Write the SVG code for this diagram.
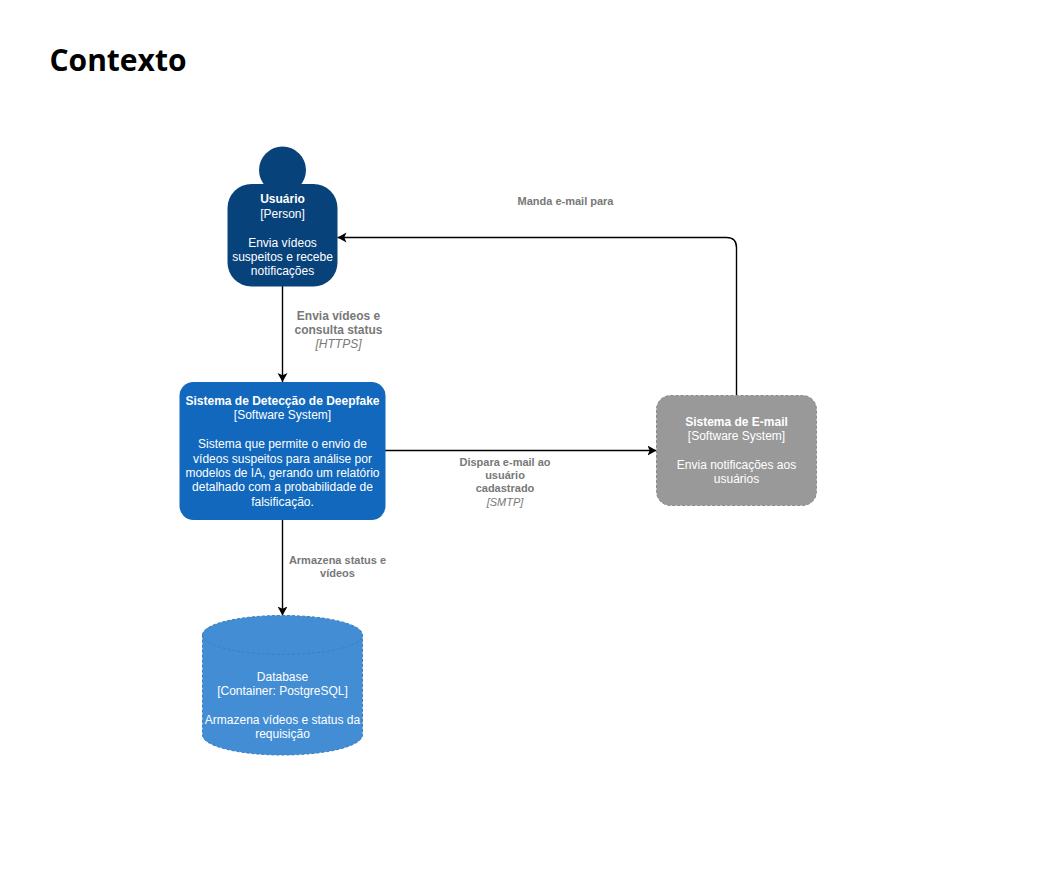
<svg xmlns="http://www.w3.org/2000/svg" width="1061" height="889" viewBox="0 0 1061 889">
<style>
text{font-family:"Liberation Sans",Arial,sans-serif;text-anchor:middle}
.n{font-size:12px;fill:#fff}
.b{font-weight:bold}
.l{font-size:11px;fill:#787878;font-weight:bold}
.i{font-size:11px;fill:#787878;font-style:italic}
.m{font-size:12px}
.c{fill:none;stroke:#000;stroke-width:1.4}
.d{stroke-width:1;stroke-dasharray:3 2}
</style>
<defs><marker id="a" markerUnits="userSpaceOnUse" markerWidth="11" markerHeight="11" refX="9" refY="5" orient="auto"><path d="M0 0L9 5L0 10L2.200 5Z" fill="#000"/></marker></defs>
<rect width="1061" height="889" fill="#fff"/>
<text x="118" y="71" style="font-family:'Open Sans',sans-serif;font-size:30px;font-weight:bold;fill:#000">Contexto</text>
<g id="connectors">
<path class="c" marker-end="url(#a)" d="M282.500 286V382"/>
<path class="c" marker-end="url(#a)" d="M385 450.500H656.500"/>
<path class="c" marker-end="url(#a)" d="M282.500 520V615.500"/>
<path class="c" marker-end="url(#a)" d="M736.500 395V247.500Q736.500 237.500 726.500 237.500H337.500"/>
</g>
<g id="labels">
<text class="l m" x="338.500" y="319.500">Envia vídeos e</text>
<text class="l m" x="338.500" y="333.500">consulta status</text>
<text class="i m" x="338.500" y="348">[HTTPS]</text>
<text class="l" x="337.500" y="564">Armazena status e</text>
<text class="l" x="337.500" y="577">vídeos</text>
<text class="l" x="505" y="466">Dispara e-mail ao</text>
<text class="l" x="505" y="479">usuário</text>
<text class="l" x="505" y="492">cadastrado</text>
<text class="i" x="505" y="506">[SMTP]</text>
<text class="l" x="565.500" y="205">Manda e-mail para</text>
</g>
<g id="usuario">
<circle cx="282.500" cy="170" r="23.500" fill="#08427b"/>
<rect x="227.500" y="184" width="110" height="102.500" rx="24" fill="#08427b"/>
<text class="n b" x="282.500" y="203">Usuário</text>
<text class="n" x="282.500" y="218">[Person]</text>
<text class="n" x="282.500" y="246.500">Envia vídeos</text>
<text class="n" x="282.500" y="261">suspeitos e recebe</text>
<text class="n" x="282.500" y="275">notificações</text>
</g>
<g id="sistema">
<rect x="179.500" y="382" width="206" height="138" rx="14" fill="#1168bd"/>
<text class="n b" x="282.500" y="405">Sistema de Detecção de Deepfake</text>
<text class="n" x="282.500" y="419">[Software System]</text>
<text class="n" x="282.500" y="448">Sistema que permite o envio de</text>
<text class="n" x="282.500" y="462.500">vídeos suspeitos para análise por</text>
<text class="n" x="282.500" y="477">modelos de IA, gerando um relatório</text>
<text class="n" x="282.500" y="491">detalhado com a probabilidade de</text>
<text class="n" x="282.500" y="506">falsificação.</text>
</g>
<g id="email">
<rect class="d" x="656.500" y="395.500" width="160" height="110" rx="14" fill="#999" stroke="#8a8a8a"/>
<text class="n b" x="736.500" y="426">Sistema de E-mail</text>
<text class="n" x="736.500" y="440">[Software System]</text>
<text class="n" x="736.500" y="469">Envia notificações aos</text>
<text class="n" x="736.500" y="483">usuários</text>
</g>
<g id="database">
<path class="d" d="M202.500 635C202.500 624 238 615.500 282.500 615.500S362.500 624 362.500 635V735C362.500 746 327 755 282.500 755S202.500 746 202.500 735Z" fill="#438dd5" stroke="#3c7fc0"/>
<path class="d" d="M202.500 635C202.500 646 238 654.500 282.500 654.500S362.500 646 362.500 635" fill="none" stroke="#3c7fc0"/>
<text class="n" x="282.500" y="681">Database</text>
<text class="n" x="282.500" y="695">[Container: PostgreSQL]</text>
<text class="n" x="282.500" y="724">Armazena vídeos e status da</text>
<text class="n" x="282.500" y="738">requisição</text>
</g>
</svg>
